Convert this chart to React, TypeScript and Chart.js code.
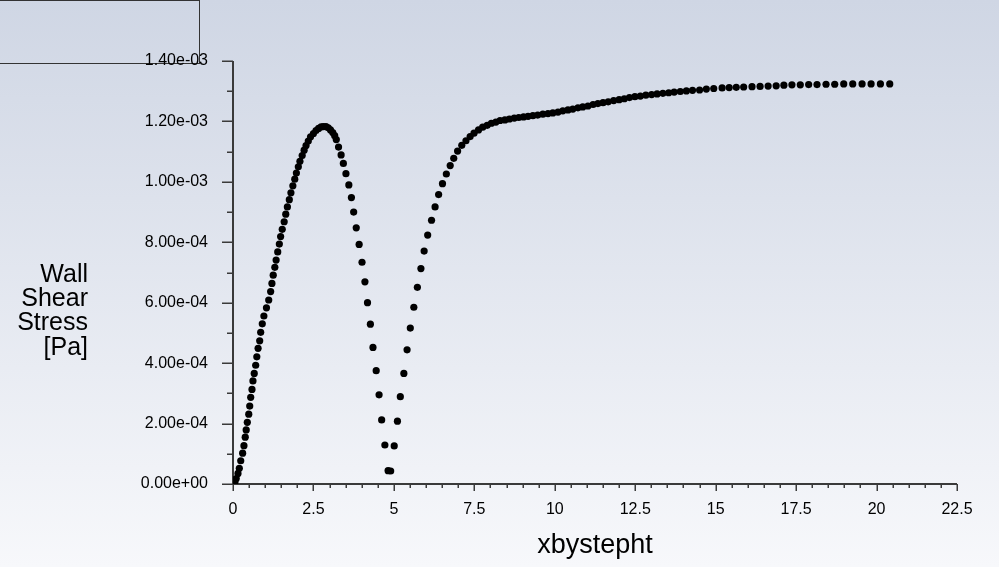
import React, { useEffect, useRef } from "react";
import { Chart, registerables } from "chart.js";

Chart.register(...registerables);

// x position along the wall (xbystepht)
const xbystepht: number[] = [
  0, 0.03, 0.06, 0.1, 0.155, 0.196, 0.24, 0.3, 0.34, 0.38, 0.41, 0.445, 0.49, 0.52, 0.55, 0.59, 0.62, 0.66,
  0.705, 0.74, 0.78, 0.83, 0.86, 0.91, 0.96, 1.04, 1.11, 1.17, 1.21, 1.25, 1.3, 1.34, 1.39, 1.44, 1.48, 1.53,
  1.59, 1.64, 1.69, 1.75, 1.8, 1.86, 1.92, 1.97, 2.03, 2.08, 2.15, 2.21, 2.27, 2.34, 2.41, 2.5, 2.58, 2.66,
  2.74, 2.81, 2.89, 2.96, 3.03, 3.1, 3.16, 3.21, 3.28, 3.36, 3.43, 3.51, 3.6, 3.68, 3.75, 3.83, 3.92, 4.01,
  4.1, 4.18, 4.27, 4.35, 4.45, 4.54, 4.62, 4.72, 4.82, 4.9, 5.01, 5.11, 5.2, 5.31, 5.41, 5.51, 5.62, 5.73,
  5.84, 5.94, 6.05, 6.17, 6.28, 6.39, 6.51, 6.63, 6.75, 6.86, 6.98, 7.11, 7.24, 7.37, 7.49, 7.63, 7.76, 7.9,
  8.03, 8.17, 8.3, 8.45, 8.59, 8.74, 8.88, 9.03, 9.17, 9.32, 9.47, 9.63, 9.79, 9.94, 10.1, 10.25, 10.41,
  10.56, 10.72, 10.87, 11.03, 11.19, 11.34, 11.5, 11.66, 11.83, 12.0, 12.16, 12.32, 12.49, 12.66, 12.83,
  13.01, 13.18, 13.36, 13.54, 13.71, 13.9, 14.09, 14.28, 14.5, 14.71, 14.94, 15.2, 15.42, 15.64, 15.87,
  16.13, 16.38, 16.63, 16.88, 17.12, 17.37, 17.63, 17.89, 18.15, 18.43, 18.7, 18.98, 19.26, 19.55, 19.83,
  20.12, 20.41,
];

// Wall shear stress [Pa]
const wallShearStress: number[] = [
  0.02e-4, 0.03e-4, 0.07e-4, 0.18e-4, 0.35e-4, 0.52e-4, 0.77e-4, 1.02e-4, 1.27e-4, 1.55e-4, 1.79e-4, 2.04e-4,
  2.31e-4, 2.58e-4, 2.87e-4, 3.13e-4, 3.41e-4, 3.66e-4, 3.93e-4, 4.21e-4, 4.49e-4, 4.74e-4, 5.02e-4, 5.3e-4,
  5.56e-4, 5.83e-4, 6.09e-4, 6.37e-4, 6.64e-4, 6.91e-4, 7.17e-4, 7.41e-4, 7.68e-4, 7.94e-4, 8.19e-4, 8.43e-4,
  8.68e-4, 8.93e-4, 9.17e-4, 9.41e-4, 9.64e-4, 9.87e-4, 10.09e-4, 10.29e-4, 10.5e-4, 10.68e-4, 10.87e-4,
  11.05e-4, 11.2e-4, 11.35e-4, 11.49e-4, 11.6e-4, 11.7e-4, 11.77e-4, 11.82e-4, 11.83e-4, 11.83e-4, 11.79e-4,
  11.72e-4, 11.63e-4, 11.53e-4, 11.4e-4, 11.15e-4, 10.89e-4, 10.61e-4, 10.27e-4, 9.9e-4, 9.48e-4, 9.0e-4,
  8.48e-4, 7.93e-4, 7.34e-4, 6.69e-4, 6.0e-4, 5.29e-4, 4.52e-4, 3.75e-4, 2.95e-4, 2.12e-4, 1.29e-4, 0.44e-4,
  0.43e-4, 1.26e-4, 2.08e-4, 2.89e-4, 3.66e-4, 4.44e-4, 5.16e-4, 5.85e-4, 6.51e-4, 7.13e-4, 7.71e-4, 8.24e-4,
  8.73e-4, 9.17e-4, 9.58e-4, 9.94e-4, 10.26e-4, 10.54e-4, 10.78e-4, 11.02e-4, 11.21e-4, 11.36e-4, 11.5e-4,
  11.61e-4, 11.72e-4, 11.81e-4, 11.87e-4, 11.94e-4, 11.98e-4, 12.03e-4, 12.05e-4, 12.08e-4, 12.11e-4,
  12.13e-4, 12.15e-4, 12.17e-4, 12.19e-4, 12.21e-4, 12.24e-4, 12.26e-4, 12.28e-4, 12.31e-4, 12.35e-4,
  12.38e-4, 12.41e-4, 12.45e-4, 12.48e-4, 12.51e-4, 12.56e-4, 12.59e-4, 12.62e-4, 12.65e-4, 12.69e-4,
  12.72e-4, 12.75e-4, 12.79e-4, 12.82e-4, 12.84e-4, 12.87e-4, 12.89e-4, 12.91e-4, 12.93e-4, 12.95e-4,
  12.97e-4, 12.99e-4, 13.01e-4, 13.03e-4, 13.04e-4, 13.07e-4, 13.09e-4, 13.11e-4, 13.12e-4, 13.13e-4,
  13.14e-4, 13.15e-4, 13.16e-4, 13.17e-4, 13.18e-4, 13.2e-4, 13.21e-4, 13.21e-4, 13.22e-4, 13.22e-4,
  13.23e-4, 13.23e-4, 13.24e-4, 13.24e-4, 13.24e-4, 13.24e-4, 13.24e-4, 13.24e-4,
];

const xRange = [0, 22.5];
const yRange = [0, 1.4e-3];
const xMajorStep = 2.5;
const xMinorStep = 0.5;
const yMajorStep = 2e-4;
const yMinorStep = 1e-4;
const yTitleLines = ["Wall", "Shear", "Stress", "[Pa]"];
const xTitle = "xbystepht";

const FONT = "'Liberation Sans', Arial, sans-serif";

function formatExp(v: number): string {
  const s = Number(v).toExponential(2);
  return s.replace(/e([+-])(\d)$/, "e$10$2");
}

const axesPlugin = {
  id: "fluentAxes",
  beforeDatasetsDraw(chart: any) {
    const { ctx, chartArea: a, scales } = chart;
    const xs = scales.x;
    const ys = scales.y;
    ctx.save();
    ctx.strokeStyle = "#3a3a3a";
    ctx.lineWidth = 2;
    ctx.beginPath();
    ctx.moveTo(a.left, a.top);
    ctx.lineTo(a.left, a.bottom);
    ctx.lineTo(a.right, a.bottom);
    ctx.stroke();

    ctx.lineWidth = 1.5;
    ctx.beginPath();
    const nY = Math.round((yRange[1] - yRange[0]) / yMinorStep);
    const yRatio = Math.round(yMajorStep / yMinorStep);
    for (let i = 0; i <= nY; i++) {
      const p = Math.round(ys.getPixelForValue(yRange[0] + i * yMinorStep)) + 0.25;
      const len = i % yRatio === 0 ? 11 : 6;
      ctx.moveTo(a.left - len, p);
      ctx.lineTo(a.left, p);
    }
    const nX = Math.round((xRange[1] - xRange[0]) / xMinorStep);
    const xRatio = Math.round(xMajorStep / xMinorStep);
    for (let i = 0; i <= nX; i++) {
      const p = Math.round(xs.getPixelForValue(xRange[0] + i * xMinorStep)) + 0.25;
      const len = i % xRatio === 0 ? 7 : 4;
      ctx.moveTo(p, a.bottom);
      ctx.lineTo(p, a.bottom + len);
    }
    ctx.stroke();
    ctx.restore();
  },
  afterDraw(chart: any) {
    const { ctx, chartArea: a } = chart;
    ctx.save();
    ctx.fillStyle = "#000";
    ctx.textBaseline = "alphabetic";
    ctx.font = `25px ${FONT}`;
    ctx.textAlign = "right";
    yTitleLines.forEach((t, i) => {
      ctx.fillText(t, 88, 282 + i * 24.2);
    });
    ctx.font = `27px ${FONT}`;
    ctx.textAlign = "center";
    ctx.fillText(xTitle, (a.left + a.right) / 2, 553);
    ctx.restore();
  },
};

export default function App() {
  const canvasRef = useRef<HTMLCanvasElement | null>(null);

  useEffect(() => {
    if (!canvasRef.current) return;
    const n = Math.min(xbystepht.length, wallShearStress.length);
    const points = [];
    for (let i = 0; i < n; i++) points.push({ x: xbystepht[i], y: wallShearStress[i] });

    const chart = new Chart(canvasRef.current, {
      type: "scatter",
      data: {
        datasets: [
          {
            label: "Wall Shear Stress",
            data: points,
            showLine: false,
            pointRadius: 3.6,
            pointHoverRadius: 3.6,
            pointBackgroundColor: "#000",
            pointBorderWidth: 0,
            borderColor: "#000",
          },
        ],
      },
      options: {
        animation: false,
        responsive: true,
        maintainAspectRatio: false,
        layout: { padding: { top: 61, right: 42, left: 0, bottom: 0 } },
        plugins: {
          legend: { display: false },
          tooltip: { enabled: false },
          title: { display: false },
        },
        scales: {
          x: {
            type: "linear",
            min: xRange[0],
            max: xRange[1],
            grid: { display: false, drawTicks: false },
            border: { display: false },
            afterFit: (s: any) => {
              s.height = 83;
            },
            ticks: {
              stepSize: xMajorStep,
              autoSkip: false,
              maxRotation: 0,
              padding: 16,
              color: "#000",
              font: { family: FONT, size: 16 },
              callback: (v: any) => String(v),
            },
          },
          y: {
            type: "linear",
            min: yRange[0],
            max: yRange[1],
            grid: { display: false, drawTicks: false },
            border: { display: false },
            afterFit: (s: any) => {
              s.width = 233;
            },
            ticks: {
              stepSize: yMajorStep,
              autoSkip: false,
              padding: 25,
              color: "#000",
              font: { family: FONT, size: 16 },
              callback: (v: any) => formatExp(Number(v)),
            },
          },
        },
      },
      plugins: [axesPlugin],
    });
    return () => chart.destroy();
  }, []);

  return (
    <div
      style={{
        position: "fixed",
        left: 0,
        top: 0,
        width: 999,
        height: 567,
        overflow: "hidden",
        background: "linear-gradient(to bottom, #cfd6e4 0%, #f7f8fb 100%)",
      }}
    >
      <div
        style={{
          position: "absolute",
          left: -3,
          top: 0,
          width: 203,
          height: 64,
          boxSizing: "border-box",
          border: "1.5px solid #333",
        }}
      />
      <canvas ref={canvasRef} style={{ position: "absolute", left: 0, top: 0, width: 999, height: 567 }} />
    </div>
  );
}
